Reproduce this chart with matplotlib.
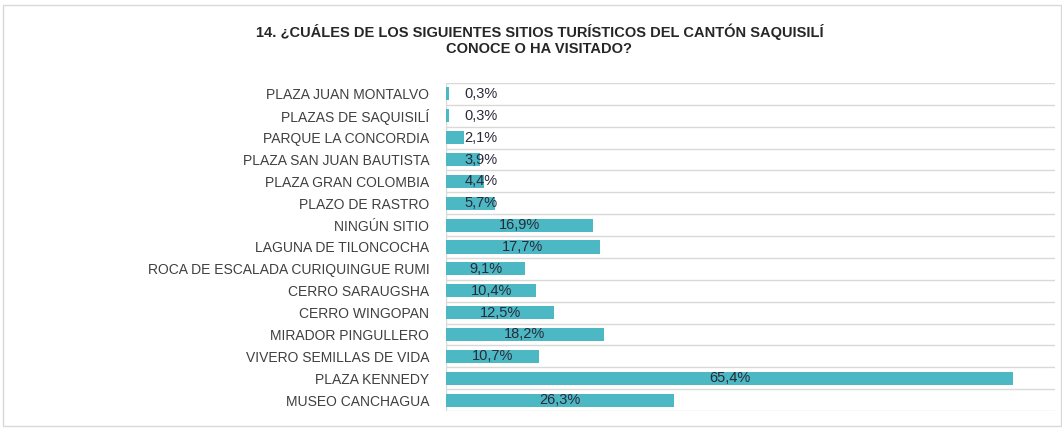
"""Bar chart: tourist sites of the Saquisilí canton that respondents know or have visited."""

import matplotlib

matplotlib.use("Agg")
import matplotlib.pyplot as plt
import numpy as np
from matplotlib.patches import Rectangle

SITES = [
    "PLAZA JUAN MONTALVO",
    "PLAZAS DE SAQUISILÍ",
    "PARQUE LA CONCORDIA",
    "PLAZA SAN JUAN BAUTISTA",
    "PLAZA GRAN COLOMBIA",
    "PLAZO DE RASTRO",
    "NINGÚN SITIO",
    "LAGUNA DE TILONCOCHA",
    "ROCA DE ESCALADA CURIQUINGUE RUMI",
    "CERRO SARAUGSHA",
    "CERRO WINGOPAN",
    "MIRADOR PINGULLERO",
    "VIVERO SEMILLAS DE VIDA",
    "PLAZA KENNEDY",
    "MUSEO CANCHAGUA",
]
PERCENT = [0.3, 0.3, 2.1, 3.9, 4.4, 5.7, 16.9, 17.7, 9.1, 10.4, 12.5, 18.2, 10.7, 65.4, 26.3]
LABELS = [f"{v:.1f}%".replace(".", ",") for v in PERCENT]

TITLE = "14. ¿CUÁLES DE LOS SIGUIENTES SITIOS TURÍSTICOS DEL CANTÓN SAQUISILÍ\nCONOCE O HA VISITADO?"

BAR = "#4bb8c4"
GRID = "#d9d9d9"
TEXT = "#404040"

fig = plt.figure(figsize=(10.62, 4.28), dpi=100)
ax = fig.add_axes([446 / 1062, 1 - 411 / 428, 609 / 1062, 328 / 428])

y = np.arange(len(SITES))
ax.barh(y, PERCENT, height=0.6, color=BAR, zorder=2)

# category separators
ax.hlines(np.arange(len(SITES) + 1) - 0.5, 0, 70.2, color=GRID, linewidth=1.0, zorder=1)
ax.axvline(0, color=GRID, linewidth=1.0, zorder=1)

for yi, v, lab in zip(y, PERCENT, LABELS):
    ax.text(max(v / 2, 4.0), yi, lab, ha="center", va="center",
            fontsize=10.5, color="#2a2a3a", family="Liberation Sans", zorder=3)

ax.set_xlim(0, 70.2)
ax.set_ylim(len(SITES) - 0.5, -0.5)
ax.set_yticks(y)
ax.set_yticklabels(SITES, fontsize=10, color=TEXT, family="Liberation Sans")
ax.tick_params(axis="y", length=0, pad=12)
ax.set_xticks([])
for spine in ax.spines.values():
    spine.set_visible(False)

fig.text(0.508, 0.907, TITLE, ha="center", va="center", fontsize=10.5,
         fontweight="bold", color="#262626", family="Liberation Sans", linespacing=1.15)

fig.patches.append(Rectangle((0.003, 0.004), 0.996, 0.984, transform=fig.transFigure,
                             fill=False, edgecolor=GRID, linewidth=1.0))

fig.savefig("out.png", dpi=100)
